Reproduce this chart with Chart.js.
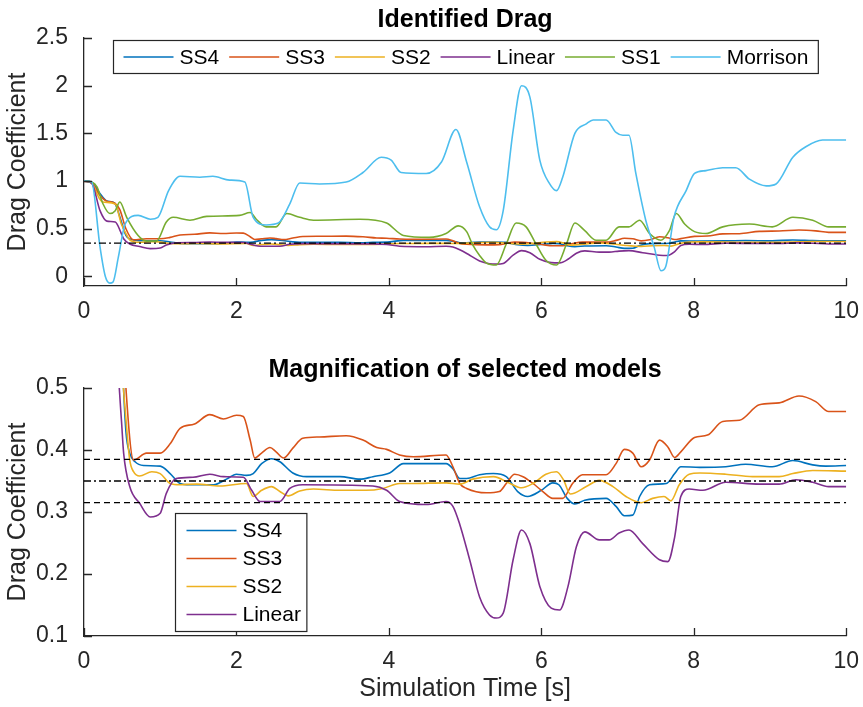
<!DOCTYPE html>
<html>
<head>
<meta charset="utf-8">
<script src="https://cdn.jsdelivr.net/npm/chart.js@4.4.1/dist/chart.umd.min.js"></script>
<style>
  body { margin: 0; background: #fff; }
  #wrap { position: relative; width: 863px; height: 707px; }
  canvas { position: absolute; left: 0; }
</style>
</head>
<body>
<div id="wrap">
  <canvas id="topChart" width="863" height="340" style="top:0"></canvas>
  <canvas id="bottomChart" width="863" height="367" style="top:340px"></canvas>
</div>
<script>
// ---- data (time [s] / drag coefficient) ----
const ss4T = [0, 0.1, 0.2, 0.3, 0.4, 0.48, 0.55, 0.6, 0.67, 0.78, 1.0, 1.13, 1.26, 1.39, 1.7, 1.87, 2.0, 2.13, 2.22, 2.33, 2.46, 2.57, 2.74, 2.92, 3.36, 3.62, 3.79, 4.01, 4.19, 4.75, 4.84, 4.93, 5.02, 5.19, 5.37, 5.54, 5.69, 5.82, 6.0, 6.15, 6.23, 6.34, 6.44, 6.57, 6.85, 6.98, 7.09, 7.2, 7.29, 7.42, 7.64, 7.75, 7.83, 8.08, 8.42, 8.68, 9.03, 9.3, 9.56, 9.73, 10];
const ss4V = [1.0, 0.99, 0.88, 0.79, 0.77, 0.6, 0.43, 0.395, 0.381, 0.375, 0.374, 0.362, 0.346, 0.344, 0.344, 0.353, 0.361, 0.359, 0.362, 0.378, 0.386, 0.381, 0.363, 0.357, 0.357, 0.353, 0.357, 0.363, 0.378, 0.378, 0.370, 0.354, 0.354, 0.360, 0.362, 0.357, 0.333, 0.325, 0.335, 0.347, 0.344, 0.322, 0.313, 0.319, 0.322, 0.309, 0.294, 0.295, 0.325, 0.344, 0.346, 0.362, 0.373, 0.372, 0.373, 0.377, 0.373, 0.383, 0.376, 0.374, 0.375];

const ss3T = [0, 0.1, 0.2, 0.3, 0.4, 0.47, 0.55, 0.65, 0.82, 1.0, 1.13, 1.26, 1.45, 1.65, 1.83, 2.0, 2.09, 2.18, 2.24, 2.33, 2.44, 2.52, 2.62, 2.74, 2.87, 3.09, 3.44, 3.66, 3.84, 3.97, 4.14, 4.32, 4.75, 4.84, 4.93, 5.02, 5.28, 5.45, 5.54, 5.65, 5.76, 5.89, 6.02, 6.15, 6.28, 6.41, 6.54, 6.85, 6.98, 7.09, 7.2, 7.31, 7.42, 7.55, 7.66, 7.75, 7.83, 8.01, 8.18, 8.38, 8.6, 8.86, 9.12, 9.38, 9.6, 9.77, 10];
const ss3V = [1.0, 0.98, 0.86, 0.79, 0.77, 0.7, 0.5, 0.384, 0.395, 0.395, 0.41, 0.435, 0.442, 0.457, 0.45, 0.456, 0.454, 0.416, 0.387, 0.395, 0.404, 0.397, 0.387, 0.403, 0.419, 0.421, 0.423, 0.416, 0.404, 0.401, 0.392, 0.389, 0.392, 0.373, 0.346, 0.338, 0.331, 0.333, 0.346, 0.361, 0.357, 0.346, 0.333, 0.322, 0.322, 0.346, 0.360, 0.360, 0.378, 0.401, 0.395, 0.373, 0.384, 0.416, 0.405, 0.388, 0.397, 0.420, 0.424, 0.446, 0.448, 0.473, 0.476, 0.487, 0.478, 0.462, 0.462];

const ss2T = [0, 0.1, 0.2, 0.25, 0.41, 0.49, 0.55, 0.6, 0.65, 0.73, 0.89, 1.0, 1.13, 1.26, 1.48, 1.78, 2.13, 2.22, 2.33, 2.46, 2.57, 2.68, 2.83, 3.01, 3.36, 3.7, 3.92, 4.14, 4.3, 4.75, 4.93, 5.1, 5.37, 5.59, 5.74, 5.89, 6.06, 6.2, 6.29, 6.38, 6.59, 6.76, 6.94, 7.11, 7.31, 7.46, 7.61, 7.7, 7.81, 7.94, 8.08, 8.42, 8.77, 9.12, 9.3, 9.56, 10];
const ss2V = [1.0, 0.98, 0.82, 0.78, 0.76, 0.55, 0.45, 0.384, 0.365, 0.358, 0.365, 0.362, 0.346, 0.344, 0.345, 0.342, 0.346, 0.325, 0.335, 0.341, 0.333, 0.326, 0.334, 0.337, 0.335, 0.335, 0.338, 0.346, 0.346, 0.347, 0.345, 0.353, 0.357, 0.346, 0.339, 0.346, 0.361, 0.365, 0.352, 0.329, 0.341, 0.351, 0.341, 0.325, 0.315, 0.322, 0.325, 0.318, 0.344, 0.361, 0.363, 0.361, 0.357, 0.357, 0.362, 0.367, 0.366];

const linT = [0, 0.1, 0.21, 0.3, 0.41, 0.49, 0.52, 0.6, 0.73, 0.87, 1.0, 1.08, 1.21, 1.43, 1.65, 1.83, 2.09, 2.2, 2.31, 2.57, 2.7, 2.87, 3.79, 3.97, 4.14, 4.49, 4.75, 4.84, 4.93, 5.06, 5.19, 5.32, 5.41, 5.5, 5.63, 5.74, 5.85, 5.98, 6.13, 6.24, 6.35, 6.46, 6.57, 6.76, 6.89, 7.02, 7.15, 7.33, 7.55, 7.66, 7.75, 7.83, 7.94, 8.12, 8.42, 8.86, 9.12, 9.34, 9.56, 9.77, 10];
const linV = [1.0, 0.98, 0.69, 0.58, 0.57, 0.45, 0.395, 0.341, 0.314, 0.292, 0.298, 0.330, 0.354, 0.356, 0.361, 0.357, 0.356, 0.335, 0.317, 0.317, 0.338, 0.344, 0.342, 0.335, 0.317, 0.312, 0.317, 0.309, 0.28, 0.223, 0.163, 0.134, 0.129, 0.137, 0.223, 0.271, 0.249, 0.180, 0.145, 0.142, 0.180, 0.244, 0.268, 0.255, 0.255, 0.266, 0.271, 0.249, 0.223, 0.220, 0.260, 0.325, 0.337, 0.335, 0.348, 0.345, 0.345, 0.352, 0.348, 0.341, 0.341];

const ss1T = [0, 0.1, 0.17, 0.25, 0.34, 0.41, 0.47, 0.56, 0.71, 0.82, 0.95, 1.08, 1.17, 1.39, 1.61, 2.04, 2.18, 2.26, 2.39, 2.52, 2.66, 2.83, 3.01, 3.62, 3.97, 4.19, 4.53, 4.75, 4.91, 5.02, 5.1, 5.19, 5.28, 5.41, 5.54, 5.67, 5.8, 5.93, 6.06, 6.2, 6.33, 6.44, 6.57, 6.72, 6.85, 7.02, 7.15, 7.29, 7.42, 7.57, 7.68, 7.77, 7.88, 8.01, 8.16, 8.38, 8.73, 9.03, 9.3, 9.56, 9.77, 10];
const ss1V = [1.0, 0.99, 0.94, 0.76, 0.66, 0.69, 0.78, 0.62, 0.43, 0.37, 0.37, 0.57, 0.62, 0.59, 0.63, 0.64, 0.67, 0.6, 0.52, 0.52, 0.66, 0.62, 0.59, 0.6, 0.56, 0.43, 0.41, 0.45, 0.53, 0.47, 0.33, 0.22, 0.14, 0.12, 0.34, 0.56, 0.52, 0.34, 0.17, 0.12, 0.34, 0.56, 0.48, 0.38, 0.38, 0.52, 0.52, 0.59, 0.45, 0.38, 0.48, 0.66, 0.55, 0.47, 0.45, 0.52, 0.55, 0.52, 0.62, 0.59, 0.52, 0.52];

const morT = [0, 0.1, 0.21, 0.28, 0.34, 0.38, 0.45, 0.54, 0.71, 0.87, 0.97, 1.11, 1.26, 1.52, 1.69, 1.91, 2.11, 2.22, 2.39, 2.55, 2.7, 2.83, 3.09, 3.44, 3.66, 3.9, 4.03, 4.16, 4.49, 4.69, 4.88, 5.02, 5.19, 5.32, 5.41, 5.5, 5.63, 5.74, 5.85, 5.98, 6.11, 6.2, 6.28, 6.44, 6.59, 6.68, 6.85, 6.98, 7.07, 7.15, 7.24, 7.37, 7.48, 7.57, 7.63, 7.74, 7.9, 8.01, 8.16, 8.38, 8.55, 8.73, 8.95, 9.08, 9.3, 9.47, 9.69, 10];
const morV = [1.0, 0.99, 0.31, 0.0, -0.07, -0.06, 0.2, 0.55, 0.64, 0.6, 0.62, 0.9, 1.05, 1.04, 1.05, 1.01, 0.99, 0.62, 0.54, 0.56, 0.76, 0.98, 0.97, 0.99, 1.09, 1.25, 1.22, 1.09, 1.08, 1.2, 1.54, 1.2, 0.73, 0.52, 0.49, 0.69, 1.53, 2.0, 1.88, 1.22, 0.97, 0.9, 1.04, 1.5, 1.6, 1.64, 1.64, 1.51, 1.48, 1.48, 1.08, 0.59, 0.31, 0.06, 0.1, 0.62, 0.9, 1.08, 1.11, 1.14, 1.14, 1.02, 0.95, 0.97, 1.25, 1.36, 1.43, 1.43];

// reference levels
const refMean = 0.35;
const refUpper = 0.385;
const refLower = 0.315;

const xTicks = [0, 2, 4, 6, 8, 10];
const topYTicks = [0, 0.5, 1, 1.5, 2, 2.5];
const bottomYTicks = [0.1, 0.2, 0.3, 0.4, 0.5];

const names = ["SS4", "SS3", "SS2", "Linear", "SS1", "Morrison"];
const colors = ["#0072BD", "#D95319", "#EDB120", "#7E2F8E", "#77AC30", "#4DBEEE"];
const seriesT = [ss4T, ss3T, ss2T, linT, ss1T, morT];
const seriesV = [ss4V, ss3V, ss2V, linV, ss1V, morV];

// ---- styling ----
const FONT = "'Liberation Sans', Arial, Helvetica, sans-serif";
const INK = "#262626";
Chart.defaults.font.family = FONT;
Chart.defaults.color = INK;

function lineSet(i) {
  return {
    label: names[i],
    data: seriesT[i].map((t, k) => ({ x: t, y: seriesV[i][k] })),
    borderColor: colors[i],
    borderWidth: 1.6,
    pointRadius: 0,
    cubicInterpolationMode: "monotone",
    order: 10 - i
  };
}

function refSet(y, dash) {
  return {
    label: "ref",
    data: [{ x: 0, y: y }, { x: 10, y: y }],
    borderColor: "#000",
    borderWidth: 1.3,
    borderDash: dash,
    pointRadius: 0,
    order: -1
  };
}

const DASH = [6, 4];
const DASHDOT = [7, 3, 2, 3];

// inward ticks + MATLAB style legend box
const matlabPlugin = {
  id: "matlab",
  afterDraw(chart, args, opts) {
    const ctx = chart.ctx;
    const { left, right, top, bottom } = chart.chartArea;
    const xs = chart.scales.x, ys = chart.scales.y;
    ctx.save();
    ctx.strokeStyle = INK;
    ctx.lineWidth = 1.3;
    ctx.beginPath();
    xs.ticks.forEach(t => {
      const px = Math.round(xs.getPixelForValue(t.value)) + 0.5;
      ctx.moveTo(px, bottom); ctx.lineTo(px, bottom - 8);
    });
    ys.ticks.forEach(t => {
      const py = Math.round(ys.getPixelForValue(t.value)) + 0.5;
      ctx.moveTo(left, py); ctx.lineTo(left + 8, py);
    });
    ctx.stroke();

    // legend
    const idx = opts.entries;
    ctx.font = "21px " + FONT;
    ctx.textBaseline = "middle";
    const lineLen = 50, gapText = 6, pad = 10;
    if (opts.horizontal) {
      const gap = 10;
      let w = pad * 2;
      idx.forEach((i, k) => { w += lineLen + gapText + ctx.measureText(names[i]).width + (k ? gap : 0); });
      const h = 33;
      const bx = Math.round((left + right) / 2 - w / 2) + 0.5;
      const by = top + 2.5;
      ctx.fillStyle = "#fff";
      ctx.fillRect(bx, by, w, h);
      ctx.strokeStyle = INK; ctx.lineWidth = 1.2;
      ctx.strokeRect(bx, by, w, h);
      let x = bx + pad;
      const cy = by + h / 2;
      idx.forEach(i => {
        ctx.strokeStyle = colors[i]; ctx.lineWidth = 1.6;
        ctx.beginPath(); ctx.moveTo(x, cy); ctx.lineTo(x + lineLen, cy); ctx.stroke();
        x += lineLen + gapText;
        ctx.fillStyle = "#000";
        ctx.fillText(names[i], x, cy + 1);
        x += ctx.measureText(names[i]).width + gap;
      });
    } else {
      const rowH = 28;
      const bx = left + 91.5, by = top + 125.5;
      let tw = 0;
      idx.forEach(i => { tw = Math.max(tw, ctx.measureText(names[i]).width); });
      const w = 11 + lineLen + gapText + tw + 6;
      const h = rowH * idx.length + 6;
      ctx.fillStyle = "#fff";
      ctx.fillRect(bx, by, w, h);
      ctx.strokeStyle = INK; ctx.lineWidth = 1.2;
      ctx.strokeRect(bx, by, w, h);
      idx.forEach((i, k) => {
        const cy = by + 17 + k * rowH;
        ctx.strokeStyle = colors[i]; ctx.lineWidth = 1.6;
        ctx.beginPath(); ctx.moveTo(bx + 11, cy); ctx.lineTo(bx + 11 + lineLen, cy); ctx.stroke();
        ctx.fillStyle = "#000";
        ctx.fillText(names[i], bx + 11 + lineLen + gapText, cy + 1);
      });
    }
    ctx.restore();
  }
};

function makeOptions(cfg) {
  return {
    responsive: false,
    animation: false,
    layout: { padding: { left: 0, right: 16, top: 0, bottom: 0 } },
    plugins: {
      legend: { display: false },
      tooltip: { enabled: false },
      title: {
        display: true,
        text: cfg.title,
        fullSize: false,
        color: "#000",
        font: { size: 25, weight: "bold", lineHeight: 1.2 },
        padding: cfg.titlePad
      },
      matlab: { entries: cfg.entries, horizontal: cfg.horizontal }
    },
    scales: {
      x: {
        type: "linear",
        min: 0,
        max: 10,
        afterBuildTicks: s => { s.ticks = xTicks.map(v => ({ value: v })); },
        afterFit: s => { s.height = cfg.xHeight; },
        grid: { display: false },
        border: { display: true, color: INK, width: 1.3 },
        ticks: { font: { size: 23 }, padding: 4, color: INK, maxRotation: 0, autoSkip: false, callback: v => String(v) },
        title: cfg.xTitle
          ? { display: true, text: cfg.xTitle, font: { size: 25 }, color: INK, padding: { top: 0, bottom: 3 } }
          : { display: false }
      },
      y: {
        min: cfg.yMin,
        max: cfg.yMax,
        afterBuildTicks: s => { s.ticks = cfg.yTicks.map(v => ({ value: v })); },
        afterFit: s => { s.width = 84; },
        grid: { display: false },
        border: { display: true, color: INK, width: 1.3 },
        ticks: { font: { size: 23 }, padding: 8, color: INK, autoSkip: false, callback: v => String(v) },
        title: { display: true, text: "Drag Coefficient", font: { size: 25 }, color: INK, padding: { top: 3, bottom: 0 } }
      }
    }
  };
}

new Chart(document.getElementById("topChart"), {
  type: "line",
  data: {
    datasets: [0, 1, 2, 3, 4, 5].map(lineSet).concat([refSet(refMean, DASHDOT)])
  },
  options: makeOptions({
    title: "Identified Drag",
    titlePad: { top: 5, bottom: 3 },
    entries: [0, 1, 2, 3, 4, 5],
    horizontal: true,
    xHeight: 54,
    yMin: -0.1,
    yMax: 2.5,
    yTicks: topYTicks
  }),
  plugins: [matlabPlugin]
});

new Chart(document.getElementById("bottomChart"), {
  type: "line",
  data: {
    datasets: [0, 1, 2, 3].map(lineSet).concat([
      refSet(refUpper, DASH),
      refSet(refLower, DASH),
      refSet(refMean, DASHDOT)
    ])
  },
  options: makeOptions({
    title: "Magnification of selected models",
    titlePad: { top: 15, bottom: 3 },
    entries: [0, 1, 2, 3],
    horizontal: false,
    xHeight: 71,
    xTitle: "Simulation Time [s]",
    yMin: 0.1,
    yMax: 0.5,
    yTicks: bottomYTicks
  }),
  plugins: [matlabPlugin]
});
</script>
</body>
</html>
